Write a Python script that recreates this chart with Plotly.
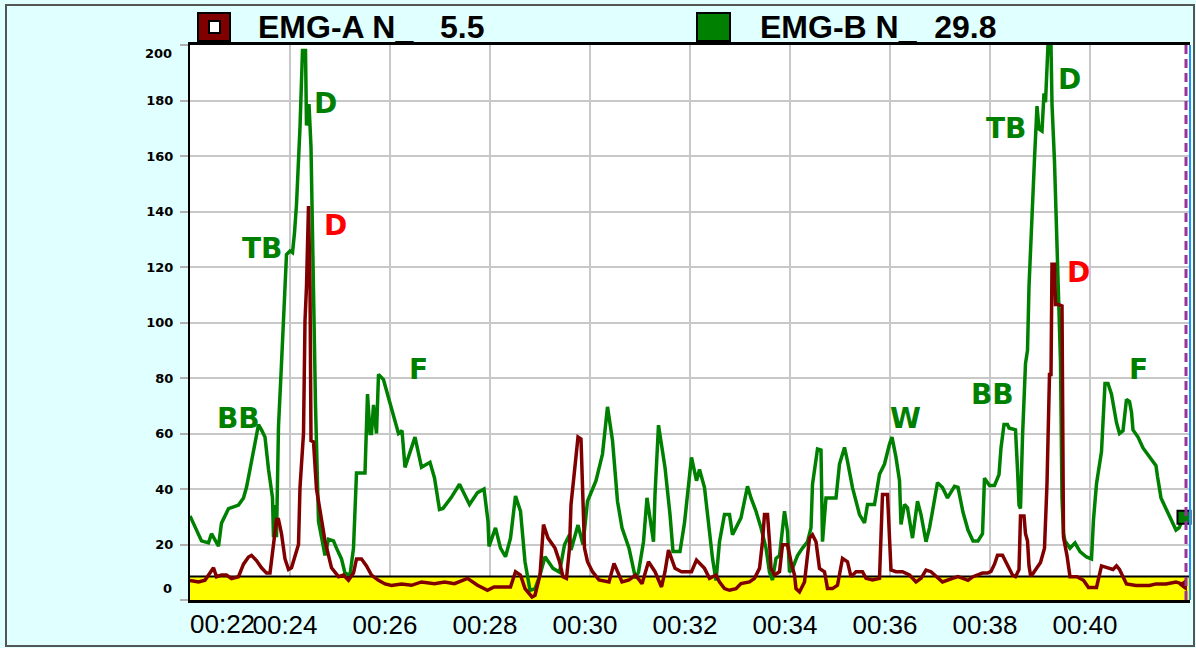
import plotly.graph_objects as go

# ---------------- data ----------------
# EMG-A (dark red) : time in seconds, amplitude
t_a = [22.00, 22.17, 22.30, 22.40, 22.47, 22.53, 22.63, 22.73, 22.83, 22.97, 23.07, 23.17, 23.23, 23.33,
       23.43, 23.53, 23.60, 23.67, 23.73, 23.77, 23.83, 23.90, 23.97, 24.03, 24.10, 24.17, 24.20, 24.27,
       24.30, 24.33, 24.37, 24.40, 24.42, 24.47, 24.53, 24.63, 24.70, 24.77, 24.83, 24.97, 25.07, 25.17,
       25.27, 25.33, 25.43, 25.53, 25.63, 25.77, 25.90, 26.03, 26.23, 26.43, 26.63, 26.89, 27.09, 27.29,
       27.55, 27.75, 27.95, 28.08, 28.41, 28.51, 28.61, 28.70, 28.84, 28.90, 29.00, 29.07, 29.16, 29.30,
       29.39, 29.46, 29.53, 29.59, 29.62, 29.69, 29.76, 29.82, 29.86, 29.89, 29.95, 30.05, 30.18, 30.38,
       30.48, 30.58, 30.64, 30.78, 30.91, 31.04, 31.17, 31.30, 31.43, 31.50, 31.57, 31.70, 31.83, 32.03,
       32.13, 32.29, 32.39, 32.52, 32.59, 32.69, 32.79, 32.92, 33.02, 33.19, 33.29, 33.39, 33.45, 33.49,
       33.55, 33.59, 33.62, 33.69, 33.79, 33.85, 33.95, 34.02, 34.09, 34.12, 34.19, 34.29, 34.39, 34.45,
       34.52, 34.59, 34.69, 34.75, 34.85, 34.95, 35.05, 35.15, 35.22, 35.32, 35.45, 35.52, 35.65, 35.79,
       35.85, 35.95, 35.99, 36.02, 36.12, 36.25, 36.39, 36.52, 36.62, 36.72, 36.82, 36.92, 37.05, 37.25,
       37.36, 37.46, 37.56, 37.66, 37.76, 37.85, 37.95, 38.02, 38.09, 38.15, 38.25, 38.32, 38.38, 38.45,
       38.51, 38.58, 38.61, 38.68, 38.71, 38.75, 38.78, 38.81, 38.84, 38.91, 39.01, 39.09, 39.14, 39.19,
       39.22, 39.24, 39.29, 39.31, 39.37, 39.44, 39.47, 39.54, 39.60, 39.74, 39.87, 39.97, 40.13, 40.23,
       40.33, 40.46, 40.53, 40.59, 40.66, 40.73, 40.92, 41.19, 41.32, 41.52, 41.72, 41.88]
emg_a = [7.0, 6.5, 7.1, 9.7, 11.6, 8.4, 9.0, 9.0, 7.7, 8.4, 12.9, 15.5, 16.1, 14.2,
         11.6, 9.7, 9.7, 20.0, 29.0, 29.0, 23.9, 14.8, 11.0, 11.6, 16.1, 20.0, 40.6, 60.0,
         100.6, 113.0, 142.0, 113.0, 57.4, 57.0, 40.0, 30.0, 21.3, 16.1, 11.6, 8.4, 9.0, 7.1,
         9.7, 14.8, 14.8, 12.3, 9.0, 7.1, 5.8, 5.2, 5.8, 5.3, 6.5, 5.9, 6.5, 5.9,
         7.8, 5.3, 3.5, 4.7, 4.7, 10.2, 9.0, 4.1, 1.1, 1.7, 9.0, 27.2, 22.3, 18.7,
         13.8, 8.4, 7.8, 18.7, 34.4, 46.5, 58.7, 58.0, 36.8, 18.7, 13.8, 10.2, 7.2, 6.5,
         13.2, 9.0, 6.5, 7.2, 9.0, 5.9, 13.8, 10.2, 4.7, 10.2, 18.0, 11.4, 10.2, 10.2,
         14.4, 11.4, 7.8, 9.0, 6.5, 4.1, 3.5, 4.1, 5.9, 6.5, 7.8, 11.4, 21.0, 30.8,
         30.8, 21.0, 11.4, 9.0, 10.2, 19.9, 19.9, 13.8, 9.0, 4.1, 2.9, 6.5, 22.3, 23.5,
         21.0, 11.4, 10.2, 4.1, 4.1, 5.3, 15.0, 13.8, 8.4, 10.2, 10.2, 7.8, 7.2, 7.8,
         38.0, 38.0, 22.3, 10.8, 10.2, 10.2, 9.0, 6.5, 7.8, 10.8, 10.2, 8.4, 6.5, 7.8,
         8.4, 7.8, 7.1, 8.4, 9.0, 9.7, 9.7, 10.3, 12.9, 16.1, 16.1, 13.5, 11.0, 9.0,
         8.4, 11.0, 30.3, 30.3, 23.9, 21.3, 12.3, 9.0, 9.0, 11.0, 13.5, 18.7, 41.9, 81.3,
         81.3, 121.0, 121.0, 106.5, 106.5, 106.0, 22.6, 16.0, 8.4, 8.4, 7.1, 4.5, 4.5, 12.3,
         11.6, 11.0, 12.3, 11.0, 8.4, 5.8, 5.2, 5.2, 5.8, 5.8, 6.5, 5.5]

# EMG-B (green)
t_b = [22.00, 22.23, 22.37, 22.43, 22.57, 22.63, 22.77, 22.97, 23.07, 23.13, 23.20, 23.30, 23.37, 23.43,
       23.50, 23.57, 23.65, 23.67, 23.71, 23.73, 23.77, 23.83, 23.89, 23.93, 24.00, 24.05, 24.09, 24.13,
       24.20, 24.25, 24.31, 24.33, 24.38, 24.42, 24.47, 24.51, 24.57, 24.63, 24.70, 24.77, 24.87, 24.93,
       25.03, 25.10, 25.20, 25.27, 25.33, 25.50, 25.53, 25.55, 25.60, 25.63, 25.67, 25.73, 25.77, 25.87,
       25.97, 26.07, 26.17, 26.24, 26.30, 26.50, 26.63, 26.80, 26.89, 26.99, 27.06, 27.22, 27.39, 27.59,
       27.75, 27.88, 27.96, 27.98, 28.11, 28.21, 28.31, 28.41, 28.51, 28.61, 28.70, 28.80, 28.90, 29.00,
       29.10, 29.26, 29.39, 29.49, 29.59, 29.62, 29.76, 29.86, 29.95, 30.12, 30.25, 30.35, 30.45, 30.55,
       30.64, 30.78, 30.91, 30.97, 31.07, 31.14, 31.27, 31.30, 31.37, 31.50, 31.60, 31.66, 31.80, 31.89,
       32.03, 32.13, 32.19, 32.29, 32.39, 32.45, 32.52, 32.59, 32.69, 32.79, 32.85, 32.92, 33.02, 33.15,
       33.22, 33.32, 33.42, 33.52, 33.59, 33.65, 33.72, 33.79, 33.89, 33.95, 33.99, 34.05, 34.15, 34.25,
       34.35, 34.42, 34.45, 34.55, 34.62, 34.65, 34.72, 34.85, 34.92, 34.99, 35.09, 35.15, 35.25, 35.39,
       35.49, 35.55, 35.69, 35.79, 35.89, 35.99, 36.04, 36.12, 36.19, 36.22, 36.29, 36.35, 36.45, 36.55,
       36.62, 36.72, 36.79, 36.85, 36.95, 37.05, 37.15, 37.29, 37.36, 37.46, 37.56, 37.66, 37.76, 37.85,
       37.89, 37.99, 38.09, 38.18, 38.22, 38.28, 38.35, 38.38, 38.51, 38.55, 38.58, 38.61, 38.65, 38.71,
       38.75, 38.78, 38.83, 38.89, 38.94, 38.98, 39.04, 39.08, 39.11, 39.16, 39.22, 39.24, 39.29, 39.33,
       39.37, 39.41, 39.44, 39.47, 39.50, 39.60, 39.70, 39.80, 39.93, 40.03, 40.07, 40.13, 40.23, 40.26,
       40.30, 40.36, 40.43, 40.53, 40.59, 40.66, 40.69, 40.73, 40.79, 40.83, 40.86, 40.96, 41.06, 41.16,
       41.25, 41.32, 41.35, 41.42, 41.52, 41.62, 41.72, 41.78, 41.88]
emg_b = [30.3, 21.3, 20.6, 23.9, 19.4, 27.7, 32.9, 34.2, 36.8, 40.6, 47.1, 57.4, 63.2, 61.3,
         58.7, 47.1, 36.8, 22.6, 34.2, 22.6, 62.6, 85.2, 105.8, 124.5, 125.8, 125.2, 132.3, 142.6,
         170.3, 198.0, 198.0, 171.0, 178.7, 163.2, 111.6, 70.3, 28.4, 22.6, 16.1, 21.9, 21.3, 18.7,
         14.8, 9.7, 9.0, 18.7, 45.8, 45.8, 60.6, 74.2, 60.0, 60.0, 70.3, 60.0, 81.3, 79.4,
         72.9, 66.5, 60.0, 61.0, 47.8, 58.7, 47.8, 49.6, 44.0, 32.6, 33.0, 36.8, 41.7, 34.4,
         38.7, 40.0, 28.4, 19.3, 26.0, 18.7, 15.6, 22.3, 37.5, 32.0, 13.8, 3.5, 4.0, 9.0,
         15.6, 11.4, 10.0, 19.9, 23.5, 18.0, 27.0, 20.0, 35.6, 43.0, 52.6, 69.6, 57.5, 35.6,
         26.0, 18.7, 7.8, 10.0, 21.0, 36.8, 21.0, 38.0, 63.0, 47.8, 30.8, 17.5, 17.5, 27.8,
         51.4, 43.0, 47.0, 40.5, 23.5, 15.0, 7.0, 21.0, 30.8, 30.8, 23.5, 26.0, 29.6, 41.0,
         36.8, 32.0, 26.0, 18.7, 10.0, 7.2, 15.0, 16.0, 32.0, 24.7, 10.0, 11.4, 16.0, 18.7,
         21.0, 26.0, 41.7, 54.4, 54.0, 21.0, 36.8, 36.8, 36.8, 49.0, 55.0, 50.0, 40.5, 30.8,
         27.8, 34.4, 34.4, 45.3, 49.0, 56.2, 58.7, 51.4, 43.0, 27.2, 34.4, 33.2, 22.3, 35.6,
         30.8, 21.0, 26.0, 32.0, 42.3, 40.5, 36.8, 41.0, 40.6, 31.6, 25.2, 21.3, 21.3, 23.9,
         43.9, 41.3, 41.3, 45.2, 54.8, 63.2, 63.2, 62.0, 61.3, 47.1, 34.2, 33.0, 58.7, 85.2,
         90.0, 113.0, 137.4, 159.0, 178.0, 169.7, 169.0, 182.6, 179.4, 200.0, 200.0, 178.7, 158.0, 130.0,
         107.7, 85.8, 36.8, 23.9, 21.3, 18.7, 20.6, 17.4, 15.5, 14.8, 29.0, 41.9, 53.5, 63.2,
         78.0, 78.0, 74.2, 63.9, 60.0, 61.0, 65.2, 72.3, 71.5, 67.7, 61.3, 58.7, 54.8, 52.3,
         49.7, 48.4, 44.5, 36.8, 32.9, 29.0, 25.2, 26.0, 29.8]

series_names = ["EMG-A N_", "EMG-B N_"]
x_tick_vals = [24, 26, 28, 30, 32, 34, 36, 38, 40]
x_tick_labels = ["00:24", "00:26", "00:28", "00:30", "00:32", "00:34", "00:36", "00:38", "00:40"]
first_tick_label = "00:22"
y_tick_vals = [0, 20, 40, 60, 80, 100, 120, 140, 160, 180, 200]
y_tick_labels = ["0", "20", "40", "60", "80", "100", "120", "140", "160", "180", "200"]
threshold = 8.5
cursor_t = 41.92

label_text = ["BB", "TB", "D", "D", "F", "W", "BB", "TB", "D", "D", "F"]
label_t = [22.96, 23.44, 24.70, 24.90, 26.56, 36.30, 38.04, 38.32, 39.58, 39.76, 40.96]
label_v = [65.5, 126.5, 179.0, 135.0, 83.0, 65.5, 74.0, 170.0, 187.6, 118.0, 83.0]
label_series = ["B", "B", "B", "A", "B", "B", "B", "B", "B", "A", "B"]

# ---------------- styling / layout helpers ----------------
W, H = 1196, 648
L, R, T, B = 190, 6, 45, 48
PW, PH = W - L - R, H - T - B

def px(x):
    return (x - L) / PW

def py(y):
    return (H - B - y) / PH

RED = "#800000"
GREEN = "#008000"
LABEL_RED = "#FF0000"
YTICK_FONT = dict(family="DejaVu Sans", size=13, color="black", weight="bold")

fig = go.Figure()

fig.add_trace(go.Scatter(x=t_b, y=emg_b, mode="lines", name=series_names[1],
                         line=dict(color=GREEN, width=3.5), showlegend=False))
fig.add_trace(go.Scatter(x=t_a, y=emg_a, mode="lines", name=series_names[0],
                         line=dict(color=RED, width=3.5), showlegend=False))
# end markers (current values)
fig.add_trace(go.Scatter(x=[t_b[-1]], y=[emg_b[-1]], mode="markers", showlegend=False,
                         marker=dict(symbol="square", size=13, color=GREEN,
                                     line=dict(color="black", width=2)), cliponaxis=False))
fig.add_trace(go.Scatter(x=[t_a[-1]], y=[emg_a[-1]], mode="markers", showlegend=False,
                         marker=dict(symbol="triangle-left", size=10, color=RED,
                                     line=dict(color=RED, width=1)), cliponaxis=False))

shapes = []
# threshold band
shapes.append(dict(type="rect", xref="x", yref="y", x0=22, x1=42, y0=0, y1=threshold,
                   fillcolor="#FFFF00", line=dict(width=0), layer="between"))
shapes.append(dict(type="line", xref="x", yref="y", x0=22, x1=42, y0=threshold, y1=threshold,
                   line=dict(color="black", width=2), layer="between"))
# cursor
shapes.append(dict(type="line", xref="x", yref="paper", x0=cursor_t, x1=cursor_t, y0=0, y1=1,
                   line=dict(color="#993399", width=3, dash="9px,5px")))
# right blue border
shapes.append(dict(type="line", xref="paper", yref="paper", x0=1.0, x1=1.0, y0=0, y1=1,
                   line=dict(color="#1E90FF", width=2)))
# outer frame
shapes.append(dict(type="rect", xref="paper", yref="paper", x0=px(6), x1=px(1194), y0=py(646), y1=py(5),
                   line=dict(color="#555555", width=2), fillcolor="rgba(0,0,0,0)"))
# legend boxes
shapes.append(dict(type="rect", xref="paper", yref="paper", x0=px(198), x1=px(230), y0=py(41), y1=py(13),
                   fillcolor=RED, line=dict(color="black", width=2)))
shapes.append(dict(type="rect", xref="paper", yref="paper", x0=px(209), x1=px(220), y0=py(33), y1=py(21),
                   fillcolor="white", line=dict(color="black", width=2)))
shapes.append(dict(type="rect", xref="paper", yref="paper", x0=px(697), x1=px(730), y0=py(41), y1=py(13),
                   fillcolor=GREEN, line=dict(color="black", width=2)))

annotations = []
annotations.append(dict(xref="paper", yref="paper", x=px(256), y=py(27), xanchor="left", yanchor="middle",
                        text=f"{series_names[0]}   {emg_a[-1]:.1f}", showarrow=False,
                        font=dict(family="Liberation Sans", size=32, color="black", weight="bold")))
annotations.append(dict(xref="paper", yref="paper", x=px(758), y=py(27), xanchor="left", yanchor="middle",
                        text=f"{series_names[1]}  {emg_b[-1]:.1f}", showarrow=False,
                        font=dict(family="Liberation Sans", size=32, color="black", weight="bold")))
annotations.append(dict(xref="paper", yref="paper", x=px(188), y=py(624), xanchor="left", yanchor="middle",
                        text=first_tick_label, showarrow=False,
                        font=dict(family="Liberation Sans", size=26, color="black")))
# end tick labels of the value axis are drawn pulled inside the plot height, as in the source
annotations.append(dict(xref="paper", yref="paper", x=px(174), y=py(54), xanchor="right", yanchor="middle",
                        text=y_tick_labels[-1], showarrow=False, font=YTICK_FONT))
annotations.append(dict(xref="paper", yref="paper", x=px(174), y=py(588), xanchor="right", yanchor="middle",
                        text=y_tick_labels[0], showarrow=False, font=YTICK_FONT))
for txt, tt, vv, s in zip(label_text, label_t, label_v, label_series):
    annotations.append(dict(xref="x", yref="y", x=tt, y=vv, text=txt, showarrow=False,
                            xanchor="center", yanchor="middle",
                            font=dict(family="DejaVu Sans", size=28, weight="bold",
                                      color=LABEL_RED if s == "A" else GREEN)))

fig.update_layout(
    width=W, height=H,
    margin=dict(l=L, r=R, t=T, b=B, pad=0),
    paper_bgcolor="#E0FFFF",
    plot_bgcolor="white",
    showlegend=False,
    shapes=shapes,
    annotations=annotations,
    xaxis=dict(range=[22, 42], tickmode="array", tickvals=x_tick_vals, ticktext=x_tick_labels,
               showgrid=True, gridcolor="#C8C8C8", gridwidth=2, zeroline=False,
               showline=True, linecolor="black", linewidth=3, mirror=True, ticks="",
               tickfont=dict(family="Liberation Sans", size=26, color="black"),
               ticklabelshift=-5),
    yaxis=dict(range=[0, 200], tickmode="array", tickvals=y_tick_vals,
               ticktext=[""] + y_tick_labels[1:-1] + [""],
               showgrid=True, gridcolor="#C8C8C8", gridwidth=2, zeroline=False,
               showline=True, linecolor="black", linewidth=2,
               ticks="outside", ticklen=8, tickcolor="#B0B0B0", tickwidth=2,
               ticklabelstandoff=4,
               tickfont=YTICK_FONT),
)

fig.write_html("out.html", config={"displayModeBar": False},
               post_script="document.body.style.margin='0';document.body.style.overflow='hidden';")
